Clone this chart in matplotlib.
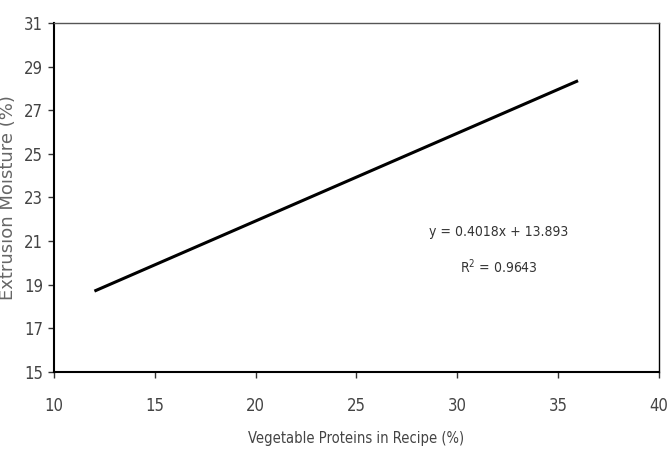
import matplotlib.pyplot as plt
from matplotlib import font_manager

# trend line values
protein_pct = [12, 36]
moisture_pct = [18.7, 28.35]
x_ticks = [10, 15, 20, 25, 30, 35, 40]
y_ticks = [15, 17, 19, 21, 23, 25, 27, 29, 31]
equation = "y = 0.4018x + 13.893"
r_squared = "R$^2$ = 0.9643"

names = {f.name for f in font_manager.fontManager.ttflist}
narrow = "Liberation Sans Narrow" if "Liberation Sans Narrow" in names else "DejaVu Sans"
plt.rcParams['font.family'] = [narrow, 'DejaVu Sans']
plt.rcParams['font.stretch'] = 'condensed'
plt.rcParams['mathtext.fontset'] = 'custom'
plt.rcParams['mathtext.rm'] = narrow

fig = plt.figure(figsize=(6.68, 4.59), dpi=100)
ax = fig.add_axes([0.081, 0.190, 0.905, 0.760])

ax.plot(protein_pct, moisture_pct, color='black', linewidth=2.2, solid_capstyle='butt')

ax.set_xlim(10, 40)
ax.set_ylim(15, 31)
ax.set_xticks(x_ticks)
ax.set_yticks(y_ticks)
ax.tick_params(direction='out', length=4, width=1, colors='#333333',
               labelsize=12, labelcolor='#444444', pad=14)
ax.tick_params(axis='y', pad=4)

for s in ax.spines.values():
    s.set_color('black')
    s.set_linewidth(1.0)
ax.spines['left'].set_linewidth(1.5)
ax.spines['bottom'].set_linewidth(1.5)
ax.spines['top'].set_color('#555555')

ax.set_xlabel("Vegetable Proteins in Recipe (%)", fontsize=10.5, color='#444444', labelpad=12)
ax.set_ylabel("Extrusion Moisture (%)", fontsize=13, color='#666666', labelpad=5,
              fontstretch='normal')

ax.text(0.736, 0.401, equation, transform=ax.transAxes, ha='center', va='center',
        fontsize=10, color='#333333')
ax.text(0.736, 0.301, r_squared, transform=ax.transAxes, ha='center', va='center',
        fontsize=10, color='#333333')

fig.savefig("out.png", dpi=100)
